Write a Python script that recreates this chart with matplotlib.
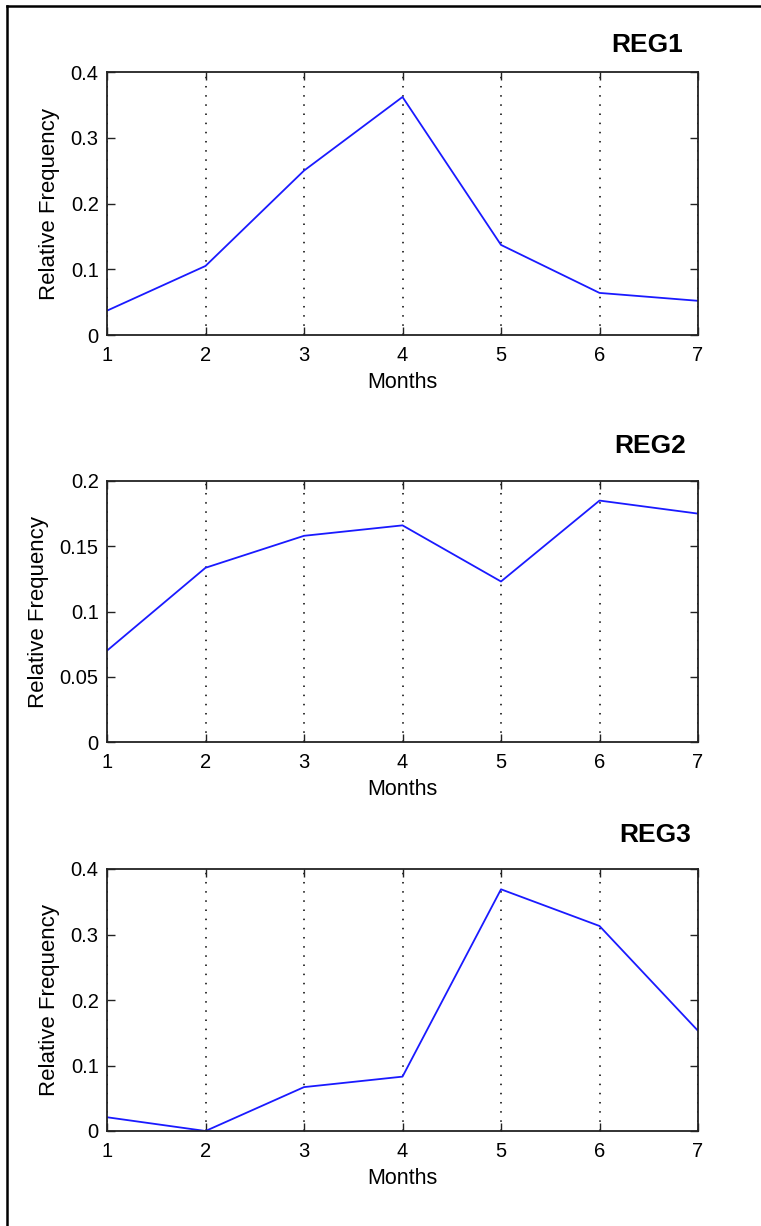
import matplotlib
matplotlib.use('Agg')
import matplotlib.pyplot as plt
from matplotlib.lines import Line2D

plt.rcParams['font.family'] = ['Liberation Sans', 'DejaVu Sans']

months = [1, 2, 3, 4, 5, 6, 7]
reg1 = [0.037, 0.105, 0.250, 0.362, 0.137, 0.064, 0.052]
reg2 = [0.070, 0.1335, 0.158, 0.166, 0.123, 0.185, 0.175]
reg3 = [0.021, 0.0, 0.067, 0.083, 0.369, 0.313, 0.153]
series = [reg1, reg2, reg3]
titles = ['REG1', 'REG2', 'REG3']
yticks = [[0, 0.1, 0.2, 0.3, 0.4],
          [0, 0.05, 0.1, 0.15, 0.2],
          [0, 0.1, 0.2, 0.3, 0.4]]
yticklabels = [['0', '0.1', '0.2', '0.3', '0.4'],
               ['0', '0.05', '0.1', '0.15', '0.2'],
               ['0', '0.1', '0.2', '0.3', '0.4']]

W, H = 761, 1226
fig = plt.figure(figsize=(W / 100, H / 100), dpi=100)
fig.patch.set_facecolor('white')

# axes boxes in pixels: (top, bottom), and title anchor (x, baseline)
boxes = [(72, 335), (481, 742), (869, 1131)]
title_pos = [(647, 52), (650, 453), (655, 842)]
left, right = 107, 698

for i in range(3):
    top, bot = boxes[i]
    ax = fig.add_axes([left / W, (H - bot) / H, (right - left) / W, (bot - top) / H])
    ax.plot(months, series[i], color='#1a1aff', lw=1.3)
    ax.set_xlim(1, 7)
    ax.set_ylim(yticks[i][0], yticks[i][-1])
    ax.set_xticks(months)
    ax.set_xticklabels([str(m) for m in months])
    ax.set_yticks(yticks[i])
    ax.set_yticklabels(yticklabels[i])
    ax.tick_params(direction='in', length=6, width=1, top=True, right=True,
                   labelsize=14.5, color='#222222')
    ax.tick_params(axis='x', pad=8)
    ax.tick_params(axis='y', pad=6)
    ax.xaxis.grid(True, linestyle=(0, (1, 5)), color='black', lw=1.1)
    for sp in ax.spines.values():
        sp.set_linewidth(1.3)
        sp.set_color('#222222')
    ax.set_xlabel('Months', fontsize=15.5, labelpad=5)
    ax.set_ylabel('Relative Frequency', fontsize=16, labelpad=8)
    tx, ty = title_pos[i]
    fig.text(tx / W, (H - ty) / H, titles[i], ha='center', va='baseline',
             fontsize=19, fontweight='bold')

# outer frame, only its top and left edges fall inside the image
fx, fy = 7 / W, (H - 5.5) / H
fig.add_artist(Line2D([fx, 1.0], [fy, fy], transform=fig.transFigure,
                      color='black', lw=1.8))
fig.add_artist(Line2D([fx, fx], [0.0, fy], transform=fig.transFigure,
                      color='black', lw=1.8))

fig.savefig('out.png', dpi=100, facecolor='white')
